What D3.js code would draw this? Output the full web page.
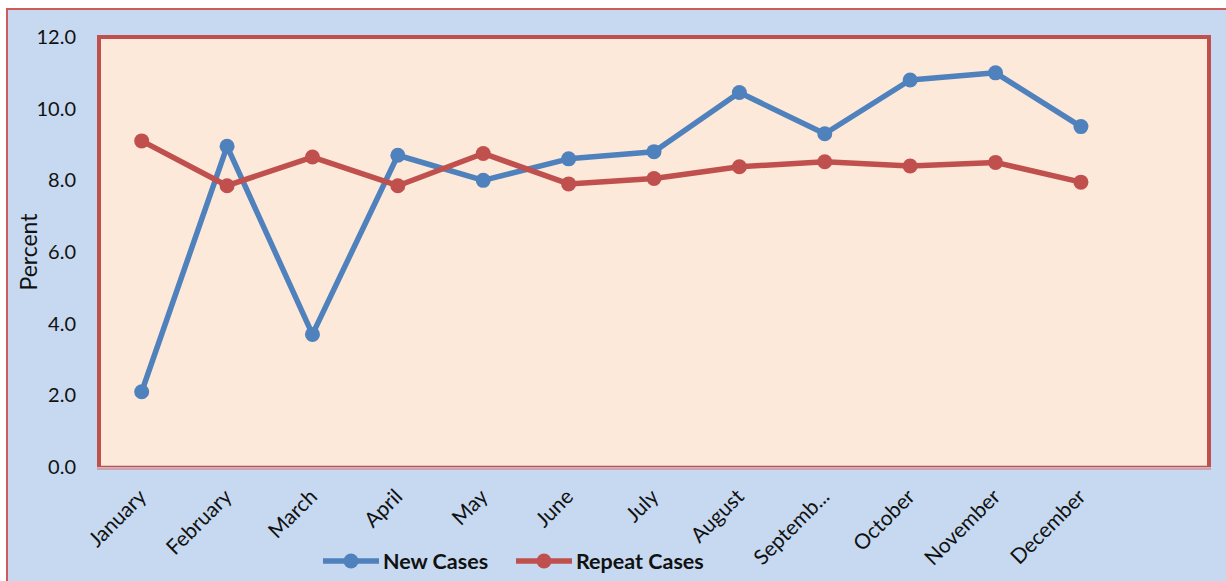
<!DOCTYPE html>
<html>
<head>
<meta charset="utf-8">
<script src="https://cdn.jsdelivr.net/npm/d3@7"></script>
<style>
  body { margin: 0; background: #fff; }
  svg { display: block; font-family: Lato, "Open Sans", sans-serif; }
</style>
</head>
<body>
<script>
// data
var months = ["January", "February", "March", "April", "May", "June", "July",
  "August", "Septemb...", "October", "November", "December"];
var newCases = [2.1, 8.95, 3.7, 8.7, 8.0, 8.6, 8.8, 10.45, 9.3, 10.8, 11.0, 9.5];
var repeatCases = [9.1, 7.85, 8.65, 7.85, 8.75, 7.9, 8.05, 8.38, 8.52, 8.4, 8.5, 7.95];
var yTicks = [0, 2, 4, 6, 8, 10, 12];

var width = 1226, height = 581;
var plot = {left: 99, top: 37, right: 1209, bottom: 467};

var svg = d3.select("body").append("svg")
  .attr("width", width)
  .attr("height", height);

// outer chart area
svg.append("rect")
  .attr("x", 7).attr("y", 9)
  .attr("width", width + 20).attr("height", height + 20)
  .attr("fill", "#c6d9f0")
  .attr("stroke", "#cd5b59")
  .attr("stroke-width", 2);

// plot area
svg.append("rect")
  .attr("x", plot.left).attr("y", plot.top)
  .attr("width", plot.right - plot.left).attr("height", plot.bottom - plot.top)
  .attr("fill", "#fde9d9");

// extra empty slot at the end, like the original
var x = d3.scaleBand()
  .domain(d3.range(months.length + 1))
  .range([plot.left, plot.right]);

var y = d3.scaleLinear()
  .domain([0, 12])
  .range([plot.bottom, plot.top]);

// y axis labels
var yAxis = svg.append("g")
  .attr("transform", "translate(" + plot.left + ",0)")
  .call(d3.axisLeft(y).tickValues(yTicks).tickFormat(d3.format(".1f")).tickSize(0).tickPadding(23));
yAxis.select(".domain").remove();
yAxis.selectAll("text")
  .attr("font-size", 20)
  .attr("font-family", "Lato, sans-serif")
  .attr("fill", "#111");

// x axis labels
var xAxis = svg.append("g")
  .attr("transform", "translate(0," + plot.bottom + ")")
  .call(d3.axisBottom(x).tickSize(0).tickFormat(function (i) { return months[i] || ""; }));
xAxis.select(".domain").remove();
xAxis.selectAll("text")
  .attr("font-size", 21)
  .attr("font-family", "Lato, sans-serif")
  .attr("fill", "#111")
  .attr("text-anchor", "end")
  .attr("dy", 0)
  .attr("y", 0)
  .attr("transform", "translate(6,31) rotate(-45)");

// plot border: heavy on top/left/right, thin double line at bottom
svg.append("path")
  .attr("d", "M" + plot.left + "," + plot.bottom + "V" + plot.top + "H" + plot.right + "V" + plot.bottom)
  .attr("fill", "none")
  .attr("stroke", "#c0504d")
  .attr("stroke-width", 4);
svg.append("line")
  .attr("x1", plot.left - 2).attr("x2", plot.right + 2)
  .attr("y1", plot.bottom - 0.5).attr("y2", plot.bottom - 0.5)
  .attr("stroke", "#c0504d").attr("stroke-width", 1.5);
svg.append("line")
  .attr("x1", plot.left - 2).attr("x2", plot.right + 2)
  .attr("y1", plot.bottom + 2).attr("y2", plot.bottom + 2)
  .attr("stroke", "#d9706d").attr("stroke-width", 1.2);

var series = [
  {name: "New Cases", values: newCases, color: "#4f81bd"},
  {name: "Repeat Cases", values: repeatCases, color: "#c0504d"}
];

var line = d3.line()
  .x(function (d, i) { return x(i) + x.bandwidth() / 2; })
  .y(function (d) { return y(d); });

series.forEach(function (s) {
  var g = svg.append("g");
  g.append("path")
    .attr("d", line(s.values))
    .attr("fill", "none")
    .attr("stroke", s.color)
    .attr("stroke-width", 5.5)
    .attr("stroke-linejoin", "round");
  g.selectAll("circle")
    .data(s.values)
    .enter().append("circle")
    .attr("cx", function (d, i) { return x(i) + x.bandwidth() / 2; })
    .attr("cy", function (d) { return y(d); })
    .attr("r", 7.5)
    .attr("fill", s.color);
});

// y axis title
svg.append("text")
  .attr("transform", "translate(37,252) rotate(-90)")
  .attr("text-anchor", "middle")
  .attr("font-size", 23)
  .attr("fill", "#111")
  .text("Percent");

// legend
var legendX = [323, 516];
var legend = svg.selectAll(".legend")
  .data(series)
  .enter().append("g")
  .attr("class", "legend")
  .attr("transform", function (d, i) { return "translate(" + legendX[i] + ",561)"; });
legend.append("line")
  .attr("x1", 0).attr("x2", 56)
  .attr("stroke", function (d) { return d.color; })
  .attr("stroke-width", 5.5);
legend.append("circle")
  .attr("cx", 28).attr("r", 7.5)
  .attr("fill", function (d) { return d.color; });
legend.append("text")
  .attr("x", 60).attr("y", 8)
  .attr("font-size", 21.5)
  .attr("font-weight", "bold")
  .attr("fill", "#111")
  .text(function (d) { return d.name; });
</script>
</body>
</html>
